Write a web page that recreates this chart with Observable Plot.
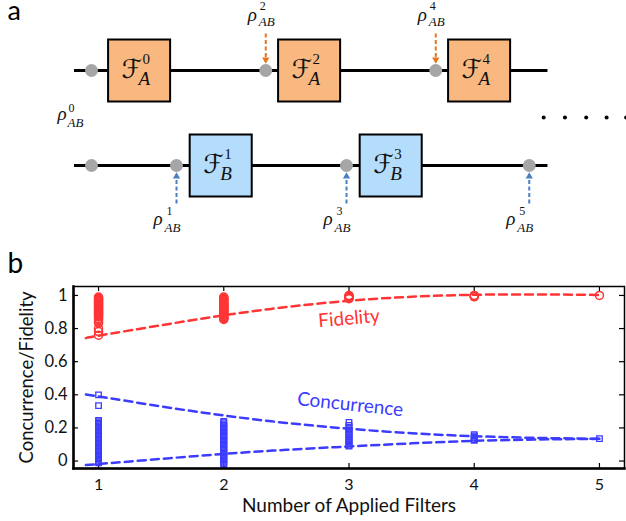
<!DOCTYPE html>
<html><head><meta charset="utf-8">
<script src="https://cdn.jsdelivr.net/npm/d3@7"></script>
<script src="https://cdn.jsdelivr.net/npm/@observablehq/plot@0.6"></script>
<style>body{margin:0;background:#fff} #fig{width:626px;height:521px;background:#fff} #fig svg{display:block}</style>
</head><body><div id="fig"></div>
<script>
// ---------- panel a : filter chain ----------
const chainRows = [{party: "A", row: 0, start: -0.2, end: 5.37}, {party: "B", row: 1, start: -0.2, end: 5.37}];
const filters = [
  {party: "A", k: 0, stage: 0.56}, {party: "A", k: 2, stage: 2.56}, {party: "A", k: 4, stage: 4.56},
  {party: "B", k: 1, stage: 1.52}, {party: "B", k: 3, stage: 3.52}
];
const states = [
  {party: "A", k: 0, stage: 0}, {party: "A", k: 2, stage: 2.05}, {party: "A", k: 4, stage: 4.05},
  {party: "B", k: null, stage: 0}, {party: "B", k: 1, stage: 1}, {party: "B", k: 3, stage: 3}, {party: "B", k: 5, stage: 5.15}
];
const ellipsis = [5.32, 5.57, 5.82, 6.06, 6.29];

// ---------- panel b : data ----------
const xTicks = [1, 2, 3, 4, 5];
const yTicks = [0, 0.2, 0.4, 0.6, 0.8, 1];
const fidelity1 = [0.99,0.985,0.98,0.975,0.97,0.965,0.96,0.955,0.95,0.945,0.94,0.935,0.93,0.925,0.92,0.915,0.91,0.905,0.9,0.895,0.89,0.885,0.88,0.875,0.87,0.86,0.852,0.84,0.833,0.8,0.782,0.76];
const fidelity2 = [0.99,0.985,0.98,0.975,0.97,0.965,0.96,0.955,0.95,0.945,0.94,0.935,0.93,0.925,0.92,0.915,0.91,0.905,0.9,0.895,0.89,0.885,0.88,0.875,0.87,0.865,0.86,0.855];
const fidelity3 = [1.0,0.996,0.992,0.988,0.984,0.98];
const fidelity4 = [1.0,0.998,0.995,0.992];
const fidelity5 = [1.0];
const concurrence1 = [0.40,0.335,0.245,0.237,0.229,0.221,0.213,0.205,0.197,0.189,0.181,0.173,0.165,0.157,0.149,0.141,0.133,0.125,0.117,0.109,0.101,0.093,0.085,0.077,0.069,0.061,0.053,0.045,0.037,0.029,0.021,0.013,0.005,-0.003,-0.011];
const concurrence2 = [0.24,0.232,0.224,0.216,0.208,0.2,0.192,0.184,0.176,0.168,0.16,0.152,0.144,0.136,0.128,0.12,0.112,0.104,0.096,0.088,0.08,0.072,0.064,0.056,0.048,0.04,0.032,0.024,0.016,0.008,0.0,-0.008,-0.016,-0.02];
const concurrence3 = [0.234,0.215,0.205,0.195,0.185,0.175,0.165,0.155,0.145,0.135,0.125,0.115,0.105,0.095,0.09];
const concurrence4 = [0.16,0.152,0.145,0.138,0.13,0.125];
const concurrence5 = [0.135];
const fitX = [0.9, 1, 1.5, 2, 2.5, 3, 3.5, 4, 4.5, 5];
const fidelityFit = [0.742, 0.757, 0.82, 0.88, 0.93, 0.968, 0.992, 1.004, 1.006, 1.003];
const concurrenceFitUpper = [0.402, 0.39, 0.33, 0.275, 0.23, 0.195, 0.168, 0.15, 0.14, 0.134];
const concurrenceFitLower = [-0.024, -0.018, 0.013, 0.043, 0.068, 0.088, 0.107, 0.122, 0.13, 0.134];
const curveLabels = [
  {name: "Fidelity", n: 3.0, v: 0.861, angle: -5},
  {name: "Concurrence", n: 3.01, v: 0.341, angle: 6}
];

// ---------- styles ----------
const orangeFill = "#f9b880", blueFill = "#b4dcfb";
const arrowOrange = "#e8731c", arrowBlue = "#4a7fc1", grayDot = "#a6a6a6";
const red = "#ff3535", blue = "#3c3cff";
const mathFont = "Liberation Serif, DejaVu Serif, serif";
const scriptFont = "DejaVu Serif, DejaVu Sans, serif";
const textFont = "Lato, 'Open Sans', sans-serif";
const rowOf = p => (p === "A" ? 0 : 1);

function rhoLabel(data, dxs, dys) {
  const base = {x: "stage", y: d => rowOf(d.party), textAnchor: "start", lineAnchor: "bottom", fontStyle: "italic", fontFamily: mathFont, fill: "#111"};
  return [
    Plot.text(data, {...base, text: () => "ρ", dx: dxs[0], dy: dys[0], fontSize: 19}),
    Plot.text(data, {...base, text: () => "AB", dx: dxs[1], dy: dys[1], fontSize: 13}),
    Plot.text(data, {...base, text: d => String(d.k), fontStyle: "normal", dx: dxs[2], dy: dys[2], fontSize: 12})
  ];
}
function filterLabel(data) {
  const base = {x: "stage", y: d => rowOf(d.party), textAnchor: "start", lineAnchor: "bottom", fill: "#111"};
  return [
    Plot.text(data, {...base, text: () => "ℱ", dx: -17.5, dy: 8, fontSize: 26, fontStyle: "italic", fontFamily: scriptFont}),
    Plot.text(data, {...base, text: d => String(d.k), dx: 3.5, dy: -6, fontSize: 15, fontFamily: mathFont}),
    Plot.text(data, {...base, text: d => d.party, dx: -0.5, dy: 15, fontSize: 19, fontStyle: "italic", fontFamily: mathFont})
  ];
}

const labeledA = states.filter(d => d.party === "A" && d.k > 0);
const labeledB = states.filter(d => d.party === "B" && d.k != null);
const labeled0 = states.filter(d => d.k === 0);

const diagram = Plot.plot({
  width: 626, height: 240, margin: 0,
  style: {background: "white", overflow: "visible"},
  x: {type: "linear", domain: [-1.0706, 6.2941], range: [0, 626], axis: null},
  y: {type: "linear", domain: [-0.7368, 1.7895], range: [0, 240], axis: null},
  marks: [
    Plot.ruleY(chainRows, {y: "row", x1: "start", x2: "end", stroke: "black", strokeWidth: 3}),
    Plot.link(labeledA, {x1: "stage", x2: "stage", y1: d => rowOf(d.party) - 0.39, y2: d => rowOf(d.party) - 0.14, stroke: arrowOrange, strokeWidth: 2, strokeDasharray: "4,2.5"}),
    Plot.dot(labeledA, {x: "stage", y: d => rowOf(d.party) - 0.116, symbol: "triangle", r: 2.7, rotate: 180, fill: arrowOrange}),
    Plot.link(labeledB, {x1: "stage", x2: "stage", y1: d => rowOf(d.party) + 0.40, y2: d => rowOf(d.party) + 0.15, stroke: arrowBlue, strokeWidth: 2, strokeDasharray: "4,2.5"}),
    Plot.dot(labeledB, {x: "stage", y: d => rowOf(d.party) + 0.116, symbol: "triangle", r: 2.7, fill: arrowBlue}),
    Plot.dot(states, {x: "stage", y: d => rowOf(d.party), r: 6.5, fill: grayDot}),
    Plot.dot(filters.filter(d => d.party === "A"), {x: "stage", y: d => rowOf(d.party), symbol: "square", r: 35, fill: orangeFill, stroke: "black", strokeWidth: 2}),
    Plot.dot(filters.filter(d => d.party === "B"), {x: "stage", y: d => rowOf(d.party), symbol: "square", r: 35, fill: blueFill, stroke: "black", strokeWidth: 2}),
    ...filterLabel(filters),
    ...rhoLabel(labeledA, [-18, -7, -6], [-49, -44, -60]),
    ...rhoLabel(labeledB, [-23, -12, -10], [60, 67, 50]),
    ...rhoLabel(labeled0, [-34, -24, -23], [50, 57, 42]),
    Plot.dot(ellipsis, {x: d => d, y: () => 0.495, r: 2, fill: "black"}),
    Plot.text(["a"], {frameAnchor: "top-left", text: d => d, dx: 7, dy: 19, textAnchor: "start", lineAnchor: "bottom", fontSize: 27, fontFamily: textFont, fill: "black"})
  ]
});

// ---------- panel b ----------
const fidelityPoints = [fidelity1, fidelity2, fidelity3, fidelity4, fidelity5].flatMap((vals, i) => vals.map(v => ({n: xTicks[i], v})));
const concurrencePoints = [concurrence1, concurrence2, concurrence3, concurrence4, concurrence5].flatMap((vals, i) => vals.map(v => ({n: xTicks[i], v})));
const fitTable = (ys) => fitX.map((n, i) => ({n, v: ys[i]}));

const innerW = 626 - 73 - 2, innerH = 281 - 46 - 53;
const chart = Plot.plot({
  width: 626, height: 281, marginTop: 46, marginBottom: 53, marginLeft: 73, marginRight: 2,
  style: {fontFamily: textFont, fontSize: "16px", color: "#111", background: "white", overflow: "visible"},
  x: {type: "linear", domain: [0.8, 5.2]},
  y: {type: "linear", domain: [-0.045, 1.054]},
  marks: [
    Plot.axisX(xTicks, {tickSize: 0, tickPadding: 10, label: null, fontSize: 16, tickFormat: d => String(d)}),
    Plot.axisY(yTicks, {tickSize: 0, tickPadding: 6, label: null, fontSize: 16.5, tickFormat: d => String(d)}),
    Plot.ruleX(xTicks, {x: d => d, insetBottom: innerH - 5, stroke: "black", strokeWidth: 1.2}),
    Plot.ruleX(xTicks, {x: d => d, insetTop: innerH - 5, stroke: "black", strokeWidth: 1.2}),
    Plot.ruleY(yTicks, {y: d => d, insetRight: innerW - 5, stroke: "black", strokeWidth: 1.2}),
    Plot.ruleY(yTicks, {y: d => d, insetLeft: innerW - 5, stroke: "black", strokeWidth: 1.2}),
    Plot.line(fitTable(fidelityFit), {x: "n", y: "v", curve: "natural", stroke: red, strokeWidth: 2.5, strokeDasharray: "8,5"}),
    Plot.line(fitTable(concurrenceFitUpper), {x: "n", y: "v", curve: "natural", stroke: blue, strokeWidth: 2.5, strokeDasharray: "8,5"}),
    Plot.line(fitTable(concurrenceFitLower), {x: "n", y: "v", curve: "natural", stroke: blue, strokeWidth: 2.5, strokeDasharray: "8,5"}),
    Plot.dot(fidelityPoints, {x: "n", y: "v", r: 4, stroke: red, strokeWidth: 1.5, fill: "none"}),
    Plot.dot(concurrencePoints, {x: "n", y: "v", symbol: "square", r: 3.1, stroke: blue, strokeWidth: 1.3, fill: "none"}),
    Plot.text(curveLabels.filter(d => d.name === "Fidelity"), {x: "n", y: "v", text: "name", rotate: "angle", fill: red, fontSize: 19, fontFamily: textFont}),
    Plot.text(curveLabels.filter(d => d.name === "Concurrence"), {x: "n", y: "v", text: "name", rotate: "angle", fill: blue, fontSize: 19, fontFamily: textFont}),
    Plot.frame({stroke: "black", strokeWidth: 1.5}),
    Plot.frame({anchor: "left", stroke: "black", strokeWidth: 2.5}),
    Plot.frame({anchor: "bottom", stroke: "black", strokeWidth: 2.5}),
    Plot.text(["Number of Applied Filters"], {frameAnchor: "bottom", text: d => d, dy: 37, textAnchor: "middle", lineAnchor: "middle", fontSize: 19, fontFamily: textFont, fill: "#111"}),
    Plot.text(["Concurrence/Fidelity"], {frameAnchor: "left", text: d => d, dx: -46, rotate: -90, textAnchor: "middle", lineAnchor: "middle", fontSize: 18.5, fontFamily: textFont, fill: "#111"}),
    Plot.text(["b"], {frameAnchor: "top-left", text: d => d, dx: -66, dy: -14, textAnchor: "start", lineAnchor: "bottom", fontSize: 28, fontFamily: textFont, fill: "black"})
  ]
});

const fig = document.getElementById("fig");
fig.appendChild(diagram);
fig.appendChild(chart);
</script>
</body></html>
